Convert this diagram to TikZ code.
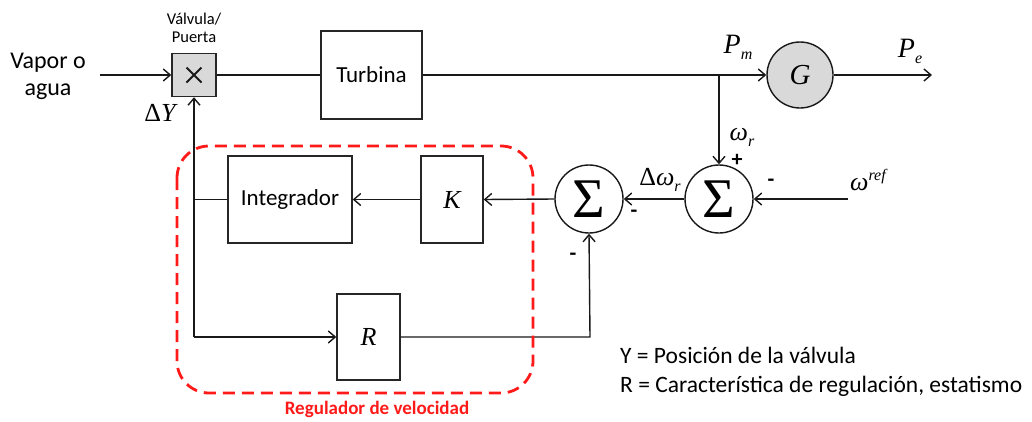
\documentclass[tikz,border=0pt]{standalone}
\usepackage{fontspec}
\setmainfont{Carlito}
\newfontfamily\tms{Liberation Serif}
\usetikzlibrary{arrows.meta}
\definecolor{boxgray}{HTML}{D9D9D9}
\definecolor{regred}{HTML}{FF1A1A}
\tikzset{
  blk/.style={draw=black!85, line width=1.4pt, minimum width=#1, inner sep=0pt},
  sumnode/.style={draw=black!90, line width=1.4pt, circle, minimum size=68pt, inner sep=0pt},
  conn/.style={line width=1.4pt, draw=black!90},
  arr/.style={conn, -{Straight Barb[length=7pt,width=12pt,line width=1.4pt]}},
  txt/.style={font=\fontsize{23}{27}\selectfont, align=center, inner sep=0pt},
  mth/.style={font=\fontsize{26}{28}\selectfont\tms\itshape, inner sep=0pt},
  sgn/.style={font=\fontsize{22}{22}\selectfont\bfseries, inner sep=0pt},
}
\begin{document}
\begin{tikzpicture}[x=1pt,y=-1pt]
\useasboundingbox (0,0) rectangle (1032,421);
% nodes
\node[txt, font=\fontsize{24}{27}\selectfont] (vapor) at (48,76) {Vapor o\\agua};
\node[blk=44pt, minimum height=43pt, fill=boxgray] (valve) at (194,75) {};
\draw[line width=2pt, black!90] ([shift={(-7.5,-7.5)}]valve.center) -- ([shift={(7.5,7.5)}]valve.center)
  ([shift={(-7.5,7.5)}]valve.center) -- ([shift={(7.5,-7.5)}]valve.center);
\node[txt, font=\fontsize{16.5}{18}\selectfont] (vlab) at (194,28) {Válvula/\\Puerta};
\node[mth] (dY) at (160,113) {{\upshape Δ}Y};
\node[blk=101pt, minimum height=88pt, txt] (turb) at (371.5,75) {Turbina};
\node[draw=black!90, line width=1.4pt, circle, minimum size=66pt, inner sep=0pt, fill=boxgray, font=\fontsize{29}{28}\selectfont\tms\itshape] (gen) at (800,75) {G};
\node[mth, font=\fontsize{28}{28}\selectfont\tms\itshape] (Pm) at (738,47) {P\raisebox{-6pt}{\fontsize{16}{16}\selectfont m}};
\node[mth, font=\fontsize{28}{28}\selectfont\tms\itshape] (Pe) at (910,51) {P\raisebox{-6pt}{\fontsize{16}{16}\selectfont e}};
\coordinate (pe_end) at (932,75);
\coordinate (br) at (719,75);
\node[sumnode, font=\fontsize{56}{56}\selectfont\tms] (s2) at (719,199) {Σ};
\node[sumnode, font=\fontsize{56}{56}\selectfont\tms] (s1) at (589,199) {Σ};
\node[mth] (wr) at (742,137) {ω\raisebox{-6pt}{\fontsize{16}{16}\selectfont r}};
\node[sgn] (plus) at (737,160) {+};
\node[mth] (wref) at (868,180) {ω\raisebox{10pt}{\fontsize{16}{16}\selectfont ref}};
\coordinate (wref_start) at (848,199);
\node[sgn] (m1) at (771,183) {-};
\node[mth] (dwr) at (660,180) {{\upshape Δ}ω\raisebox{-6pt}{\fontsize{16}{16}\selectfont r}};
\node[sgn] (m2) at (634,214) {-};
\node[sgn] (m3) at (573,257) {-};
\node[blk=62pt, minimum height=87pt, mth] (K) at (452,199.5) {K};
\node[blk=124pt, minimum height=87pt, txt] (int) at (290,199.5) {Integrador};
\node[blk=63pt, minimum height=86pt, mth] (R) at (368.5,337) {R};
\coordinate (vin) at (100,75);
\coordinate (j1) at (194,199.5);
\coordinate (j2) at (194,337);
\coordinate (rc) at (590,337);
% connectors
\draw[arr] (vin) -- (valve.west);
\draw[conn] (valve.east) -- (turb.west);
\draw[arr] (turb.east) -- (gen.west);
\draw[arr] (gen.east) -- (pe_end);
\draw[arr] (br) -- (s2.north);
\draw[arr] (wref_start) -- (s2.east);
\draw[arr] (s2.west) -- (s1.east);
\draw[arr] (s1.west) -- (K.east);
\draw[arr] (K.west) -- (int.east);
\draw[conn] (int.west) -- (j1);
\draw[arr] (j2) -- (valve.south);
\draw[arr] (j2) -- (R.west);
\draw[arr] (R.east) -- (rc) -- (s1.south);
% regulator frame
\draw[regred, line width=2.8pt, dash pattern=on 12pt off 7pt, rounded corners=32pt] (177,146) rectangle (533,393);
\node[font=\fontsize{19}{20}\selectfont\bfseries, text=regred, inner sep=0pt] (reglab) at (377,409) {Regulador de velocidad};
% legend
\node[txt, anchor=west, font=\fontsize{23.5}{26}\selectfont] (leg1) at (620,355) {Y = Posición de la válvula};
\node[txt, anchor=west, font=\fontsize{23.5}{26}\selectfont] (leg2) at (620,386) {R = Característica de regulación, estatismo};
\end{tikzpicture}
\end{document}
